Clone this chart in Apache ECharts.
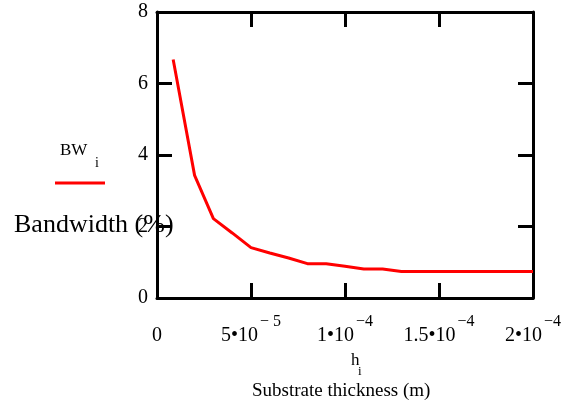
<!DOCTYPE html>
<html>
<head>
<meta charset="utf-8">
<script src="https://cdn.jsdelivr.net/npm/echarts@6/dist/echarts.min.js"></script>
<style>
  html, body { margin: 0; padding: 0; background: #fff; }
  #bwChart { width: 561px; height: 404px; }
</style>
</head>
<body>
<div id="bwChart"></div>
<script>
// substrate thickness h_i (m) and bandwidth BW_i (%)
const thickness = [0.86e-5, 2e-5, 3e-5, 4e-5, 5e-5, 6e-5, 7e-5, 8e-5, 9e-5, 10e-5,
  11e-5, 12e-5, 13e-5, 14e-5, 15e-5, 16e-5, 17e-5, 18e-5, 19e-5, 20e-5];
const bandwidth = [6.67, 3.43, 2.22, 1.82, 1.41, 1.26, 1.12, 0.96, 0.96, 0.89,
  0.81, 0.81, 0.74, 0.74, 0.74, 0.74, 0.74, 0.74, 0.74, 0.74];

// x tick labels: mantissa part and exponent part (Mathcad style)
const xTickMain = ['0', '5\u202210', '1\u202210', '1.5\u202210', '2\u202210'];
const xTickExp = ['', '\u2212 5', '\u22124', '\u22124', '\u22124'];

const serif = "'Liberation Serif', 'Times New Roman', serif";

const chart = echarts.init(document.getElementById('bwChart'));

const frameAxis = {
  axisLine: { show: true, onZero: false, lineStyle: { color: '#000', width: 3 } },
  axisTick: { show: true, inside: true, length: 15, lineStyle: { color: '#000', width: 3 } },
  splitLine: { show: false }
};

const option = {
  animation: false,
  grid: { left: 157, right: 28, top: 12, bottom: 106, containLabel: false, outerBoundsMode: 'none' },
  xAxis: [
    Object.assign({}, frameAxis, {
      type: 'value',
      position: 'bottom',
      min: 0,
      max: 2e-4,
      interval: 5e-5,
      axisLabel: {
        margin: 16,
        hideOverlap: false,
        formatter: function (v) {
          const k = Math.round(v / 5e-5);
          let s = '{m|' + xTickMain[k] + '}';
          if (xTickExp[k]) s += '{e|' + xTickExp[k] + '}';
          return s;
        },
        rich: {
          m: { fontFamily: serif, fontSize: 20, color: '#000', padding: [12, 0, 0, 0] },
          e: { fontFamily: serif, fontSize: 16, color: '#000', verticalAlign: 'top', padding: [0, 0, 0, 2] }
        }
      }
    }),
    Object.assign({}, frameAxis, {
      type: 'value',
      position: 'top',
      min: 0,
      max: 2e-4,
      interval: 5e-5,
      axisLabel: { show: false }
    })
  ],
  yAxis: [
    Object.assign({}, frameAxis, {
      type: 'value',
      position: 'left',
      min: 0,
      max: 8,
      interval: 2,
      axisLabel: { margin: 9, fontFamily: serif, fontSize: 20, color: '#000', padding: [5, 0, 0, 0] }
    }),
    Object.assign({}, frameAxis, {
      type: 'value',
      position: 'right',
      min: 0,
      max: 8,
      interval: 2,
      axisLabel: { show: false }
    })
  ],
  graphic: [
    {
      type: 'text', left: 60, top: 142,
      style: { text: 'BW', font: '17px ' + serif, fill: '#000' }
    },
    {
      type: 'text', left: 95, top: 156,
      style: { text: 'i', font: '14px ' + serif, fill: '#000' }
    },
    {
      type: 'line',
      shape: { x1: 55, y1: 183, x2: 105, y2: 183 },
      style: { stroke: '#ff0000', lineWidth: 3 }
    },
    {
      type: 'text', left: 14, top: 212,
      style: { text: 'Bandwidth (%)', font: '26px ' + serif, fill: '#000' }
    },
    {
      type: 'text', left: 351, top: 352,
      style: { text: 'h', font: '17px ' + serif, fill: '#000' }
    },
    {
      type: 'text', left: 358, top: 365,
      style: { text: 'i', font: '13px ' + serif, fill: '#000' }
    },
    {
      type: 'text', left: 252, top: 382,
      style: { text: 'Substrate thickness (m)', font: '19px ' + serif, fill: '#000' }
    }
  ],
  series: [
    {
      type: 'line',
      xAxisIndex: 0,
      yAxisIndex: 0,
      data: thickness.map((h, i) => [h, bandwidth[i]]),
      showSymbol: false,
      symbol: 'none',
      lineStyle: { color: '#ff0000', width: 3 },
      z: 1
    }
  ]
};

chart.setOption(option);
</script>
</body>
</html>
